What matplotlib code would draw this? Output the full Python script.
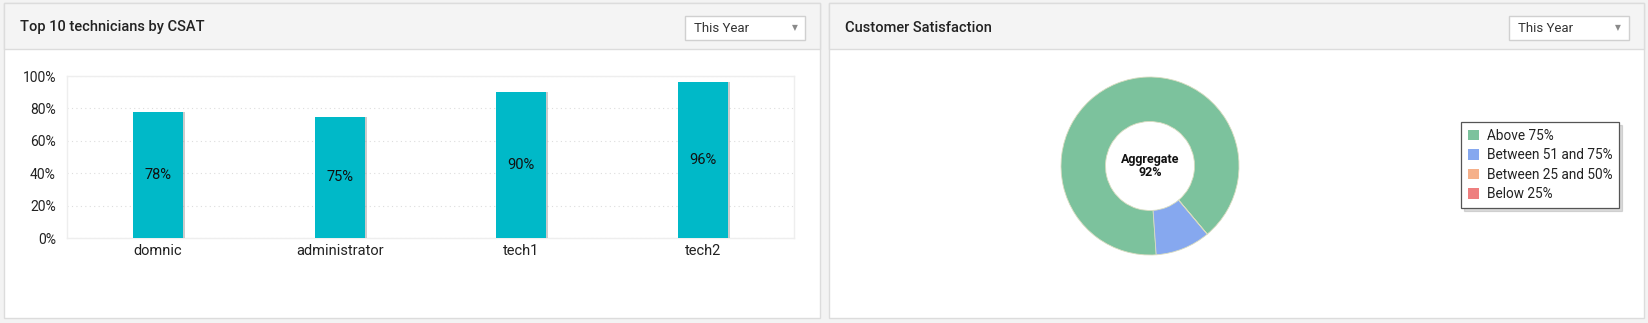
import matplotlib.pyplot as plt
import matplotlib.patheffects as pe
from matplotlib.patches import Rectangle, Patch
from matplotlib.ticker import FuncFormatter

plt.rcParams['font.family'] = ['Roboto', 'DejaVu Sans']

# technician CSAT scores (%)
technicians = ["domnic", "administrator", "tech1", "tech2"]
csat = [78, 75, 90, 96]

# customer satisfaction buckets (share of responses)
buckets = ["Above 75%", "Between 51 and 75%", "Between 25 and 50%", "Below 25%"]
bucket_share = [90, 10, 0, 0]
bucket_colors = ["#7cc29d", "#86a8ef", "#f5b08a", "#ee7f7f"]
aggregate = 92

period = "This Year"

W, H = 1649, 323
fig = plt.figure(figsize=(W / 100, H / 100), dpi=100)
fig.patch.set_facecolor("#f3f3f3")

# page layer in pixel coordinates (y down)
bg = fig.add_axes([0, 0, 1, 1], zorder=0)
bg.set_xlim(0, W)
bg.set_ylim(H, 0)
bg.axis("off")


def panel(x0, x1, title):
    y0, y1, hdr = 3, 317.5, 49
    bg.add_patch(Rectangle((x0, y0), x1 - x0, y1 - y0, facecolor="white",
                           edgecolor="#dcdcdc", lw=1))
    bg.add_patch(Rectangle((x0, y0), x1 - x0, hdr - y0, facecolor="#f4f4f4",
                           edgecolor="#dcdcdc", lw=1))
    bg.text(x0 + 16, 27.5, title, fontsize=10.5, fontweight="medium",
            color="#222222", va="center", ha="left")
    # period dropdown
    dx1 = x1 - 15
    dx0 = dx1 - 120
    bg.add_patch(Rectangle((dx0, 15.5), 120, 24.5, facecolor="white",
                           edgecolor="#d0d0d0", lw=1))
    bg.text(dx0 + 9, 28, period, fontsize=9.5, color="#333333",
            va="center", ha="left")
    bg.text(dx1 - 11, 28, "\u25bc", fontsize=5.5, color="#8a8a8a",
            va="center", ha="center", family="DejaVu Sans")


panel(4, 820.5, "Top 10 technicians by CSAT")
panel(829, 1644, "Customer Satisfaction")

# bar chart
ax = fig.add_axes([67 / W, (H - 238) / H, 727 / W, 162 / H], zorder=1)
ax.set_facecolor("none")
x = range(len(technicians))
bars = ax.bar(x, csat, width=0.275, color="#00b9c8", zorder=3)
for b in bars:
    b.set_path_effects([pe.SimplePatchShadow(offset=(1.5, 0), shadow_rgbFace="#9a9a9a",
                                             alpha=0.5), pe.Normal()])
for xi, v in zip(x, csat):
    ax.text(xi, v / 2, f"{v}%", ha="center", va="center", fontsize=10.5,
            color="#111111", zorder=4)
ax.set_xlim(-0.5, len(technicians) - 0.5)
ax.set_ylim(0, 100)
ax.set_yticks(range(0, 101, 20))
ax.yaxis.set_major_formatter(FuncFormatter(lambda v, p: f"{int(v)}%"))
ax.set_xticks(list(x))
ax.set_xticklabels(technicians)
ax.tick_params(axis="both", length=0, labelsize=10, colors="#222222")
ax.tick_params(axis="y", pad=8)
ax.tick_params(axis="x", pad=4)
for t in ax.get_xticklabels():
    t.set_fontsize(10.5)
ax.grid(axis="y", color="#dddddd", linestyle=(0, (1, 3)), lw=0.8, zorder=0)
for s in ax.spines.values():
    s.set_color("#eeeeee")
    s.set_linewidth(1)

# donut chart
r = 89
pax = fig.add_axes([(1150 - r) / W, (H - 166 - r) / H, 2 * r / W, 2 * r / H], zorder=1)
wedges, _ = pax.pie(bucket_share, colors=bucket_colors, startangle=-50,
                    radius=1, wedgeprops=dict(width=0.5, edgecolor="#d8dcc0", lw=0.6))
pax.set_xlim(-1, 1)
pax.set_ylim(-1, 1)
pax.set_aspect("equal")
pax.text(0, 0, f"Aggregate\n{aggregate}%", ha="center", va="center",
         fontsize=9, fontweight="bold", color="#111111", linespacing=1.05)

handles = [Patch(facecolor=c, edgecolor="none") for c in bucket_colors]
leg = fig.legend(handles, buckets, loc="upper left",
                 bbox_to_anchor=(1461 / W, 1 - 122 / H), bbox_transform=fig.transFigure,
                 borderaxespad=0, fontsize=9.8, handlelength=0.8, handleheight=0.8,
                 handletextpad=0.6, labelspacing=0.4, borderpad=0.5,
                 fancybox=False, shadow={"color": "#999999", "alpha": 0.35},
                 framealpha=1)
leg.get_frame().set_edgecolor("#555555")
leg.get_frame().set_linewidth(0.9)
for t in leg.get_texts():
    t.set_color("#222222")

fig.savefig("out.png", dpi=100, facecolor=fig.get_facecolor())
